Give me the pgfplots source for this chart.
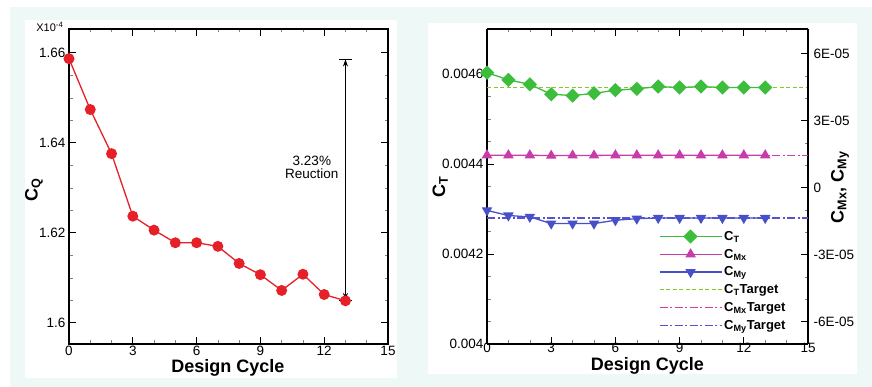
\documentclass[border=0pt]{standalone}
\usepackage{fontspec}
\setmainfont{Liberation Sans}
\usepackage{pgfplots}
\pgfplotsset{compat=1.18}
\usetikzlibrary{arrows.meta}
\definecolor{bgcyan}{RGB}{238,248,247}
\definecolor{cred}{RGB}{230,32,40}
\definecolor{cgreen}{RGB}{60,190,60}
\definecolor{cgreent}{RGB}{130,200,40}
\definecolor{cmag}{RGB}{200,60,170}
\definecolor{cmagt}{RGB}{210,60,170}
\definecolor{cblue}{RGB}{70,80,200}
\definecolor{cbluet}{RGB}{90,80,210}
\pgfplotsset{
  tecaxis/.style={
    scale only axis, anchor=south west,
    xmin=0, xmax=15, xtick={0,3,...,15},
    minor x tick num=2,
    tick align=inside,
    major tick length=7pt, minor tick length=3.5pt,
    every tick/.style={black, line width=0.8pt},
    every minor tick/.style={black!50, line width=0.5pt},
    axis line style={line width=1.3pt},
    tick label style={font=\fontsize{13.5}{13.5}\selectfont},
    label style={font=\fontsize{18}{18}\selectfont\bfseries},
    /pgf/number format/assume math mode=true,
    scaled ticks=false,
    clip=false,
  },
  tgtgreen/.style={draw=cgreent, line width=1.2pt, dash pattern=on 4pt off 2.5pt},
  tgtmag/.style={draw=cmagt, line width=1.2pt, dash pattern=on 8pt off 2.5pt on 2pt off 2.5pt},
  tgtblue/.style={draw=cbluet, line width=1.2pt, dash pattern=on 8pt off 2.5pt on 2pt off 2.5pt},
}
\begin{document}
\begin{tikzpicture}[x=1pt,y=1pt]
\path[use as bounding box] (0,0) rectangle (872,387);
\fill[white] (0,0) rectangle (872,387);
\fill[bgcyan] (10,0) rectangle (872,380);
\fill[white] (25,9) rectangle (397,367);
\fill[white] (428,13) rectangle (857,364);

% ---------- Left panel ----------
\begin{axis}[tecaxis,
  at={(69pt,43pt)}, width=319pt, height=315pt,
  ymin=1.5953, ymax=1.6653,
  ytick={1.6,1.62,1.64,1.66},
  yticklabels={1.6,1.62,1.64,1.66},
  minor y tick num=3,
  xticklabel style={yshift=1pt},
  xlabel={Design Cycle},
  xlabel style={at={(axis description cs:0.498,-0.076)}, anchor=center},
  ylabel={C\textsubscript{Q}},
  ylabel style={at={(axis description cs:-0.11,0.489)}, anchor=center},
]
\addplot[cred, line width=1.3pt, mark=*, mark size=4.8pt, mark options={fill=cred, draw=cred}]
coordinates {
(0,1.6587) (1,1.6474) (2,1.6376) (3,1.6237) (4,1.6206) (5,1.6178) (6,1.6178)
(7,1.6170) (8,1.6132) (9,1.6107) (10,1.6072) (11,1.6108) (12,1.6063) (13,1.6049)
};
\draw[line width=0.8pt, {Bar[width=13pt]Stealth[length=7pt,width=5pt]}-{Stealth[length=7pt,width=5pt]Bar[width=13pt]}]
  (axis cs:13,1.6587) -- (axis cs:13,1.6049);
\node[align=center, font=\fontsize{13.5}{12.5}\selectfont, inner sep=0pt] at (axis cs:11.42,1.6346) {3.23\%\\Reuction};
\node[font=\fontsize{11}{11}\selectfont, inner sep=0pt] at (axis description cs:-0.06,1.006) {X10\textsuperscript{-4}};
\end{axis}

% ---------- Right panel: C_T (left axis) ----------
\begin{axis}[tecaxis,
  at={(487pt,43pt)}, width=321pt, height=315pt,
  ymin=0.004, ymax=0.0047,
  axis y line*=left,
  ytick={0.004,0.0042,0.0044,0.0046},
  yticklabels={0.004,0.0042,0.0044,0.0046},
  minor y tick num=3,
  xticklabel style={yshift=4pt},
  xlabel={Design Cycle},
  xlabel style={at={(axis description cs:0.50,-0.071)}, anchor=center},
  ylabel={C\textsubscript{T}},
  ylabel style={at={(axis description cs:-0.146,0.498)}, anchor=center},
]
\addplot[tgtgreen, forget plot]
coordinates {(0,0.004570) (15,0.004570)};
\addplot[cgreen, line width=1.3pt, mark=square*, mark size=4.4pt, mark options={rotate=45, fill=cgreen, draw=cgreen}]
coordinates {
(0,0.004603) (1,0.004587) (2,0.004577) (3,0.004555) (4,0.004552) (5,0.004557) (6,0.004564)
(7,0.004567) (8,0.004572) (9,0.004570) (10,0.004572) (11,0.004570) (12,0.004570) (13,0.004570)
};
\end{axis}

% ---------- Right panel: C_Mx, C_My (right axis) ----------
\begin{axis}[tecaxis,
  at={(487pt,43pt)}, width=321pt, height=315pt,
  ymin=-7e-5, ymax=7.1e-5,
  axis y line*=right, axis x line=none,
  ytick={-6e-5,-3e-5,0,3e-5,6e-5},
  yticklabels={-6E-05,-3E-05,0,3E-05,6E-05},
  minor y tick num=2,
  yticklabel style={xshift=2pt},
  ylabel={C\textsubscript{Mx}, C\textsubscript{My}},
  ylabel style={at={(axis description cs:1.1,0.498)}, anchor=center},
  legend style={at={(axis description cs:0.535,0.365)}, anchor=north west,
    draw=none, fill=none, font=\fontsize{13}{13}\selectfont\bfseries,
    row sep=3.2pt, inner sep=0pt},
  legend cell align=left,
  legend image code/.code={
    \draw[mark repeat=2, mark phase=2] plot coordinates {(0pt,0pt) (31pt,0pt) (62pt,0pt)};
  },
]
\addlegendimage{color=cgreen, draw=cgreen, line width=1.3pt, mark=square*, mark size=4.4pt, mark options={rotate=45, fill=cgreen, draw=cgreen}}
\addlegendentry{C\textsubscript{T}}
\addplot[color=cmag, line width=1.3pt, mark=triangle*, mark size=4.8pt, mark options={fill=cmag, draw=cmag}]
coordinates {
(0,1.45e-5) (1,1.45e-5) (2,1.45e-5) (3,1.43e-5) (4,1.44e-5) (5,1.44e-5) (6,1.45e-5)
(7,1.45e-5) (8,1.45e-5) (9,1.45e-5) (10,1.45e-5) (11,1.45e-5) (12,1.45e-5) (13,1.45e-5)
};
\addlegendentry{C\textsubscript{Mx}}
\addplot[color=cblue, line width=1.3pt, mark=triangle*, mark size=4.8pt, mark options={rotate=180, fill=cblue, draw=cblue}]
coordinates {
(0,-1.02e-5) (1,-1.25e-5) (2,-1.31e-5) (3,-1.61e-5) (4,-1.61e-5) (5,-1.61e-5) (6,-1.46e-5)
(7,-1.39e-5) (8,-1.36e-5) (9,-1.36e-5) (10,-1.36e-5) (11,-1.36e-5) (12,-1.36e-5) (13,-1.36e-5)
};
\addlegendentry{C\textsubscript{My}}
\addlegendimage{tgtgreen}
\addlegendentry{C\textsubscript{T}Target}
\addplot[tgtmag]
coordinates {(0,1.45e-5) (15,1.45e-5)};
\addlegendentry{C\textsubscript{Mx}Target}
\addplot[tgtblue]
coordinates {(0,-1.36e-5) (15,-1.36e-5)};
\addlegendentry{C\textsubscript{My}Target}
\end{axis}
\end{tikzpicture}
\end{document}
